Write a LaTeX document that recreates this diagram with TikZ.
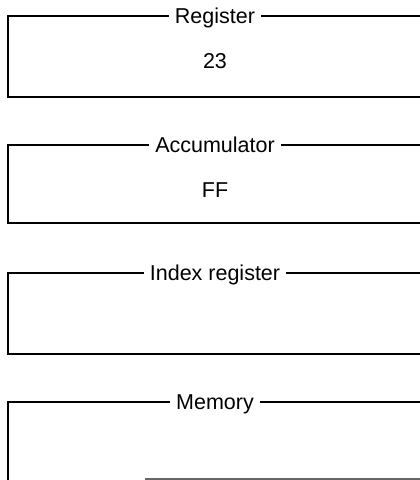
\documentclass[tikz,border=0pt]{standalone}
\usepackage{fontspec}
\setmainfont{Liberation Sans}
\usetikzlibrary{positioning}

\begin{document}
\begin{tikzpicture}[x=1pt,y=-1pt,
    frame/.style={line width=2.1pt},
    boxtitle/.style={fill=white,inner xsep=6pt,inner ysep=1pt,anchor=base,
      font=\fontsize{21.5}{25}\selectfont},
    boxvalue/.style={inner sep=0pt,anchor=base,font=\fontsize{21.5}{25}\selectfont}]
  \useasboundingbox (0,0) rectangle (420,480);
  \clip (0,0) rectangle (420,480);
  % four open boxes, running off the right edge
  \foreach \ytop/\ybot/\lbl/\val [count=\i] in
      {16/97/Register/23, 145/223/Accumulator/FF,
       273/354/Index register/{}, 402/495/Memory/{}} {
    \coordinate (nw\i) at (8,\ytop);
    \coordinate (sw\i) at (8,\ybot);
    \draw[frame] (440,\ytop) -- (nw\i) -- (sw\i) -- (440,\ybot);
    \node[boxtitle] (lbl\i) at (215,\ytop+7.5) {\lbl};
    \node[boxvalue] (val\i) at (215,\ytop+52.5) {\val};
  }
  % cut-off bottom edge of the memory box
  \coordinate (mb) at (145,479);
  \draw[line width=1.4pt,black!60] (mb) -- ++(300,0);
\end{tikzpicture}
\end{document}
